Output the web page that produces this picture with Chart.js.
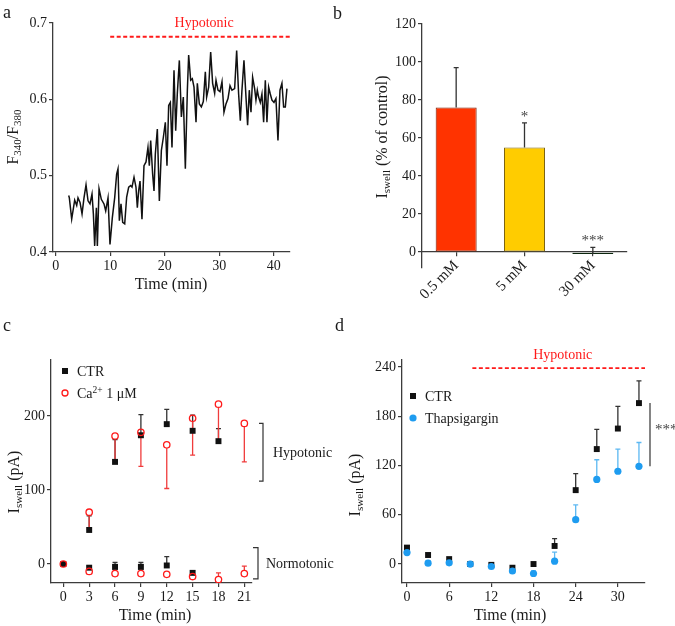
<!DOCTYPE html>
<html>
<head>
<meta charset="utf-8">
<script src="https://cdn.jsdelivr.net/npm/chart.js@4.4.0/dist/chart.umd.min.js"></script>
<style>
  body { margin: 0; background: #fff; }
  #fig { position: relative; width: 675px; height: 626px; overflow: hidden; background: #fff; }
  #fig canvas { position: absolute; }
</style>
</head>
<body>
<div id="fig"></div>
<script>
// ---- a: Fura-2 ratio trace ----
const traceTime = [2.38, 2.50, 2.93, 3.48, 3.85, 4.09, 4.46, 4.83, 5.19, 5.56, 5.93, 6.29, 6.66, 6.91, 7.15, 7.46, 7.64, 7.95, 8.37, 8.86,
  9.17, 9.60, 9.96, 10.39, 10.82, 11.18, 11.43, 11.68, 11.98, 12.29, 12.66, 13.02, 13.39, 13.76, 14.00, 14.37, 14.73, 14.98, 15.22, 15.47,
  15.83, 16.20, 16.57, 16.93, 17.18, 17.43, 17.79, 18.04, 18.28, 18.65, 19.02, 19.39, 19.75, 20.12, 20.42, 20.73, 21.04, 21.34, 21.71, 22.02,
  22.32, 22.69, 23.06, 23.42, 23.79, 24.16, 24.40, 24.77, 25.07, 25.38, 25.75, 25.99, 26.36, 26.73, 27.09, 27.46, 27.70, 28.07, 28.44, 28.80,
  29.17, 29.42, 29.78, 30.15, 30.52, 30.88, 31.25, 31.62, 31.99, 32.35, 32.84, 33.21, 33.57, 33.88, 34.18, 34.55, 34.92, 35.22, 35.53, 35.84,
  36.14, 36.51, 36.75, 37.00, 37.24, 37.55, 37.85, 38.16, 38.47, 38.77, 39.08, 39.38, 39.69, 40.06, 40.42, 40.79, 41.16, 41.52, 41.83, 42.14, 42.44];
const traceRatio = [0.474, 0.471, 0.443, 0.468, 0.461, 0.471, 0.465, 0.450, 0.471, 0.488, 0.467, 0.463, 0.476, 0.450, 0.408, 0.458, 0.408, 0.483, 0.469, 0.463,
  0.454, 0.471, 0.410, 0.445, 0.471, 0.502, 0.509, 0.441, 0.463, 0.439, 0.437, 0.472, 0.485, 0.487, 0.485, 0.498, 0.485, 0.458, 0.480, 0.493,
  0.443, 0.513, 0.518, 0.537, 0.513, 0.546, 0.502, 0.480, 0.528, 0.561, 0.467, 0.533, 0.550, 0.570, 0.513, 0.592, 0.596, 0.537, 0.638, 0.559,
  0.608, 0.651, 0.577, 0.603, 0.509, 0.612, 0.658, 0.625, 0.627, 0.616, 0.570, 0.621, 0.594, 0.590, 0.597, 0.636, 0.603, 0.616, 0.662, 0.621,
  0.608, 0.625, 0.612, 0.610, 0.623, 0.583, 0.594, 0.601, 0.618, 0.612, 0.614, 0.664, 0.607, 0.572, 0.612, 0.651, 0.603, 0.566, 0.612, 0.583,
  0.629, 0.614, 0.599, 0.612, 0.603, 0.596, 0.607, 0.570, 0.625, 0.570, 0.616, 0.607, 0.599, 0.596, 0.601, 0.546, 0.612, 0.621, 0.590, 0.590, 0.614];
const hypoA = [10, 43];
const hypoALevel = 0.682;
const aTicksX = [0, 10, 20, 30, 40];
const aTicksY = [0.4, 0.5, 0.6, 0.7];

// ---- b: Iswell vs concentration ----
const concLabels = ['0.5 mM', '5 mM', '30 mM'];
const concMean = [76, 55, -1];
const concSem = [21, 13, 3.5];
const concStars = ['', '*', '***'];
const bTicksY = [0, 20, 40, 60, 80, 100, 120];

// ---- c: CTR vs Ca2+ 1 uM ----
const cTime = [0, 3, 6, 9, 12, 15, 18, 21];
const ctrHyp = [0, 46, 138, 174, 189, 180, 166, null];
const ctrHypSem = [0, 19, 30, 28, 20, 21, 17, null];
const caHyp = [0, 70, 173, 178, 161, 197, 216, 190];
const caHypSem = [0, 23, 32, 46, 59, 50, 50, 52];
const ctrNorm = [null, -5, -4, -4, -2, -12, null, null];
const ctrNormSem = [null, 2, 6, 6, 12, 0, null, null];
const caNorm = [null, -10, -13, -13, -14, -17, -21, -13];
const caNormSem = [null, 0, 0, 0, 0, 8, 9, 10];
const hypoRangeC = [112, 190];
const normoRangeC = [-20, 22];
const cTicksX = [0, 3, 6, 9, 12, 15, 18, 21];
const cTicksY = [0, 100, 200];

// ---- d: CTR vs Thapsigargin ----
const dTime = [0, 3, 6, 9, 12, 15, 18, 21, 24, 27, 30, 33];
const dCtr = [20, 11, 6, 0, -1, -4.5, 0, 22, 90, 140, 165, 196];
const dCtrSem = [2, 0, 0, 0, 0, 0, 0, 9, 20, 24, 27, 27];
const dThap = [14, 1, 1.5, 0, -3, -8.5, -11.5, 3.5, 54, 103, 113, 119];
const dThapSem = [0, 3, 0, 0, 0, 0, 3, 11, 18, 24, 27, 29];
const hypoD = [9.3, 33.86];
const hypoDLevel = 238.5;
const dTicksX = [0, 6, 12, 18, 24, 30];
const dTicksY = [0, 60, 120, 180, 240];

const SERIF = '"Liberation Serif", "Times New Roman", Times, serif';
const AXIS = '#3c3c3c';
const TEXT = '#1a1a1a';
const RED = '#ff1a1a';
const BLUE = '#1e9cf0';

Chart.defaults.font.family = SERIF;
Chart.defaults.color = TEXT;
Chart.defaults.animation = false;
Chart.defaults.plugins.legend.display = false;
Chart.defaults.plugins.tooltip.enabled = false;

function makeCanvas(left, top, w, h) {
    const c = document.createElement('canvas');
    c.width = w; c.height = h;
    c.style.left = left + 'px'; c.style.top = top + 'px';
    c.style.width = w + 'px'; c.style.height = h + 'px';
    document.getElementById('fig').appendChild(c);
    return c;
}

function linAxis(min, max, ticks, size, fmt) {
    return {
        type: 'linear', min: min, max: max,
        afterBuildTicks: s => { s.ticks = ticks.map(v => ({ value: v })); },
        afterFit: s => { if (s.isHorizontal()) s.height = size; else s.width = size; },
        grid: { drawOnChartArea: false, color: AXIS, lineWidth: 1.2, tickLength: 4 },
        border: { color: AXIS, width: 1.3 },
        ticks: { font: { size: 14 }, color: TEXT, padding: 2, maxRotation: 0, autoSkip: false,
                 callback: fmt || (v => String(v)) }
    };
}

function pts(xs, ys) {
    return xs.map((x, i) => ({ x: x, y: ys[i] })).filter(p => p.y !== null);
}

// text made of runs: [text, size, shift]; shift > 0 = subscript, < 0 = superscript
function rich(ctx, runs, x, y, opt) {
    opt = opt || {};
    ctx.save();
    ctx.translate(x, y);
    if (opt.rotate) ctx.rotate(opt.rotate);
    ctx.fillStyle = opt.color || TEXT;
    ctx.textBaseline = 'alphabetic';
    ctx.textAlign = 'left';
    let w = 0;
    runs.forEach(r => { ctx.font = r[1] + 'px ' + SERIF; w += ctx.measureText(r[0]).width; });
    let cx = opt.align === 'left' ? 0 : -w / 2;
    const base = (opt.size || 16) * 0.33;
    runs.forEach(r => {
        ctx.font = r[1] + 'px ' + SERIF;
        ctx.fillText(r[0], cx, base + (r[2] || 0));
        cx += ctx.measureText(r[0]).width;
    });
    ctx.restore();
}

function errBars(chart, xs, ys, sems, dir, color, gap) {
    const ctx = chart.ctx, sx = chart.scales.x, sy = chart.scales.y;
    ctx.save();
    ctx.strokeStyle = color;
    ctx.lineWidth = 1.3;
    xs.forEach((x, i) => {
        const y = ys[i], e = sems[i];
        if (y === null || !e) return;
        const px = sx.getPixelForValue(x);
        const p0 = sy.getPixelForValue(y) - dir * (gap || 0);
        const p1 = sy.getPixelForValue(y + dir * e);
        ctx.beginPath();
        ctx.moveTo(px, p0); ctx.lineTo(px, p1);
        ctx.moveTo(px - 2.5, p1); ctx.lineTo(px + 2.5, p1);
        ctx.stroke();
    });
    ctx.restore();
}

function square(ctx, x, y, s, color) {
    ctx.fillStyle = color;
    ctx.fillRect(x - s / 2, y - s / 2, s, s);
}

function circle(ctx, x, y, r, fill, stroke) {
    ctx.beginPath();
    ctx.arc(x, y, r, 0, Math.PI * 2);
    if (fill) { ctx.fillStyle = fill; ctx.fill(); }
    if (stroke) { ctx.strokeStyle = stroke; ctx.lineWidth = 1.3; ctx.stroke(); }
}

// ===== panel a =====
new Chart(makeCanvas(0, 0, 337, 310), {
    type: 'line',
    data: {
        datasets: [
            { data: pts(traceTime, traceRatio), borderColor: '#111', borderWidth: 1.5, pointRadius: 0, tension: 0 },
            { data: pts(hypoA, [hypoALevel, hypoALevel]), borderColor: RED, borderWidth: 1.8, borderDash: [4, 2.5], pointRadius: 0 }
        ]
    },
    options: {
        responsive: false, devicePixelRatio: 1,
        layout: { padding: { left: 0, top: 23, right: 47, bottom: 0 } },
        scales: {
            x: linAxis(-0.5, 43, aTicksX, 58),
            y: linAxis(0.4, 0.7, aTicksY, 53, v => v.toFixed(1))
        }
    },
    plugins: [{
        id: 'textA',
        afterDraw(ch) {
            const ctx = ch.ctx, sx = ch.scales.x, sy = ch.scales.y;
            rich(ctx, [['a', 18]], 3, 12, { align: 'left', size: 18 });
            rich(ctx, [['F', 16], ['340', 11, 3], ['/F', 16], ['380', 11, 3]], 13, 137, { rotate: -Math.PI / 2 });
            rich(ctx, [['Time (min)', 16]], 171, 284);
            const mid = (sx.getPixelForValue(hypoA[0]) + sx.getPixelForValue(hypoA[1])) / 2;
            rich(ctx, [['Hypotonic', 14]], mid + 4, sy.getPixelForValue(hypoALevel) - 14, { color: RED, size: 14 });
        }
    }]
});

// ===== panel b =====
new Chart(makeCanvas(330, 0, 345, 310), {
    type: 'bar',
    data: {
        labels: concLabels,
        datasets: [{
            data: concMean,
            backgroundColor: ['#ff3300', '#ffcc00', '#123d16'],
            borderColor: ['#7a1c05', '#7d6410', '#0c260e'],
            borderWidth: 1, borderSkipped: false,
            barPercentage: 0.6, categoryPercentage: 1
        }]
    },
    options: {
        responsive: false, devicePixelRatio: 1,
        layout: { padding: { left: 0, top: 24, right: 48, bottom: 42 } },
        scales: {
            x: {
                type: 'category', position: { y: 0 }, offset: true,
                grid: { offset: false, drawOnChartArea: false, color: AXIS, lineWidth: 1.2, tickLength: 4 },
                border: { color: AXIS, width: 1.3 },
                ticks: { font: { size: 15 }, color: TEXT, minRotation: 45, maxRotation: 45, padding: 1, autoSkip: false }
            },
            y: linAxis(-8.4, 120, bTicksY, 92)
        }
    },
    plugins: [{
        id: 'textB',
        afterDatasetsDraw(ch) {
            errBars(ch, concLabels.map((l, i) => i), concMean, concSem, 1, '#333', 0);
        },
        afterDraw(ch) {
            const ctx = ch.ctx, sx = ch.scales.x, sy = ch.scales.y;
            rich(ctx, [['b', 18]], 3, 13, { align: 'left', size: 18 });
            rich(ctx, [['I', 16], ['swell', 11, 3], [' (% of control)', 16]], 52, 137, { rotate: -Math.PI / 2 });
            ctx.save();
            ctx.font = '15px ' + SERIF;
            ctx.fillStyle = '#444';
            ctx.textAlign = 'center';
            ctx.textBaseline = 'alphabetic';
            concStars.forEach((s, i) => {
                if (!s) return;
                ctx.fillText(s, sx.getPixelForValue(i), sy.getPixelForValue(concMean[i] + concSem[i]) - 2);
            });
            ctx.restore();
        }
    }]
});

// ===== panel c =====
new Chart(makeCanvas(0, 310, 337, 316), {
    type: 'scatter',
    data: {
        datasets: [
            { data: pts(cTime, caHyp), pointStyle: 'circle', pointRadius: 3.2, borderColor: RED, backgroundColor: 'rgba(0,0,0,0)', borderWidth: 1.3, order: 0 },
            { data: pts(cTime, caNorm), pointStyle: 'circle', pointRadius: 3.2, borderColor: RED, backgroundColor: 'rgba(0,0,0,0)', borderWidth: 1.3, order: 1 },
            { data: pts(cTime, ctrHyp), pointStyle: 'rect', pointRadius: 4.2, backgroundColor: '#111', borderWidth: 0, order: 2 },
            { data: pts(cTime, ctrNorm), pointStyle: 'rect', pointRadius: 4.2, backgroundColor: '#111', borderWidth: 0, order: 3 }
        ]
    },
    options: {
        responsive: false, devicePixelRatio: 1,
        layout: { padding: { left: 0, top: 50, right: 85, bottom: 0 } },
        scales: {
            x: linAxis(-1.43, 21.89, cTicksX, 43),
            y: linAxis(-25.7, 275.7, cTicksY, 51)
        }
    },
    plugins: [{
        id: 'textC',
        beforeDatasetsDraw(ch) {
            errBars(ch, cTime, ctrHyp, ctrHypSem, 1, '#333', 0);
            errBars(ch, cTime, ctrNorm, ctrNormSem, 1, '#333', 0);
            errBars(ch, cTime, caHyp, caHypSem, -1, '#f03c3c', 3.5);
            errBars(ch, cTime, caNorm, caNormSem, 1, '#f03c3c', 3.5);
        },
        afterDraw(ch) {
            const ctx = ch.ctx, sy = ch.scales.y, right = ch.chartArea.right;
            rich(ctx, [['c', 18]], 3, 15, { align: 'left', size: 18 });
            rich(ctx, [['I', 16], ['swell', 11, 3], [' (pA)', 16]], 14, 172, { rotate: -Math.PI / 2 });
            rich(ctx, [['Time (min)', 16]], 155, 305);
            // legend
            square(ctx, 65, 61, 6, '#111');
            rich(ctx, [['CTR', 14]], 77, 61, { align: 'left', size: 14 });
            circle(ctx, 65, 83, 3, null, RED);
            rich(ctx, [['Ca', 14], ['2+', 9.5, -5], [' 1 \u03bcM', 14]], 77, 83, { align: 'left', size: 14 });
            // brackets
            ctx.save();
            ctx.strokeStyle = '#333';
            ctx.lineWidth = 1.2;
            const br = (x, lo, hi, t) => {
                const y0 = sy.getPixelForValue(lo), y1 = sy.getPixelForValue(hi);
                ctx.beginPath();
                ctx.moveTo(x - t, y1); ctx.lineTo(x, y1); ctx.lineTo(x, y0); ctx.lineTo(x - t, y0);
                ctx.stroke();
                return (y0 + y1) / 2;
            };
            const yh = br(right + 11, hypoRangeC[0], hypoRangeC[1], 4);
            const yn = br(right + 6, normoRangeC[0], normoRangeC[1], 5);
            ctx.restore();
            rich(ctx, [['Hypotonic', 14]], right + 21, yh, { align: 'left', size: 14 });
            rich(ctx, [['Normotonic', 14]], right + 14, yn, { align: 'left', size: 14 });
        }
    }]
});

// ===== panel d =====
new Chart(makeCanvas(330, 310, 345, 316), {
    type: 'scatter',
    data: {
        datasets: [
            { data: pts(dTime, dThap), pointStyle: 'circle', pointRadius: 3.6, backgroundColor: BLUE, borderWidth: 0, order: 0 },
            { data: pts(dTime, dCtr), pointStyle: 'rect', pointRadius: 4.2, backgroundColor: '#111', borderWidth: 0, order: 1 },
            { data: pts(hypoD, [hypoDLevel, hypoDLevel]), showLine: true, borderColor: RED, borderWidth: 1.8, borderDash: [4, 2.5], pointRadius: 0, order: 2 }
        ]
    },
    options: {
        responsive: false, devicePixelRatio: 1,
        layout: { padding: { left: 0, top: 50, right: 30, bottom: 0 } },
        scales: {
            x: linAxis(-0.71, 33.86, dTicksX, 43),
            y: linAxis(-23.1, 248.5, dTicksY, 72)
        }
    },
    plugins: [{
        id: 'textD',
        beforeDatasetsDraw(ch) {
            errBars(ch, dTime, dCtr, dCtrSem, 1, '#333', 0);
            errBars(ch, dTime, dThap, dThapSem, 1, '#5cb8f2', 0);
        },
        afterDraw(ch) {
            const ctx = ch.ctx, sx = ch.scales.x, sy = ch.scales.y, right = ch.chartArea.right;
            rich(ctx, [['d', 18]], 5, 15, { align: 'left', size: 18 });
            rich(ctx, [['I', 16], ['swell', 11, 3], [' (pA)', 16]], 25, 175, { rotate: -Math.PI / 2 });
            rich(ctx, [['Time (min)', 16]], 180, 305);
            const mid = (sx.getPixelForValue(hypoD[0]) + sx.getPixelForValue(hypoD[1])) / 2;
            rich(ctx, [['Hypotonic', 14]], mid + 4, sy.getPixelForValue(hypoDLevel) - 14, { color: RED, size: 14 });
            // legend
            square(ctx, 83, 86, 6, '#111');
            rich(ctx, [['CTR', 14]], 95, 86, { align: 'left', size: 14 });
            circle(ctx, 83, 108, 3.6, BLUE, null);
            rich(ctx, [['Thapsigargin', 14]], 95, 108, { align: 'left', size: 14 });
            // significance
            const last = dTime.length - 1;
            const y0 = sy.getPixelForValue(dCtr[last]), y1 = sy.getPixelForValue(dThap[last]);
            ctx.save();
            ctx.strokeStyle = '#333';
            ctx.lineWidth = 1.2;
            ctx.beginPath();
            ctx.moveTo(right + 5, y0); ctx.lineTo(right + 5, y1);
            ctx.stroke();
            ctx.restore();
            rich(ctx, [['***', 15]], right + 10, (y0 + y1) / 2 - 6, { align: 'left', size: 15, color: '#444' });
        }
    }]
});
</script>
</body>
</html>
